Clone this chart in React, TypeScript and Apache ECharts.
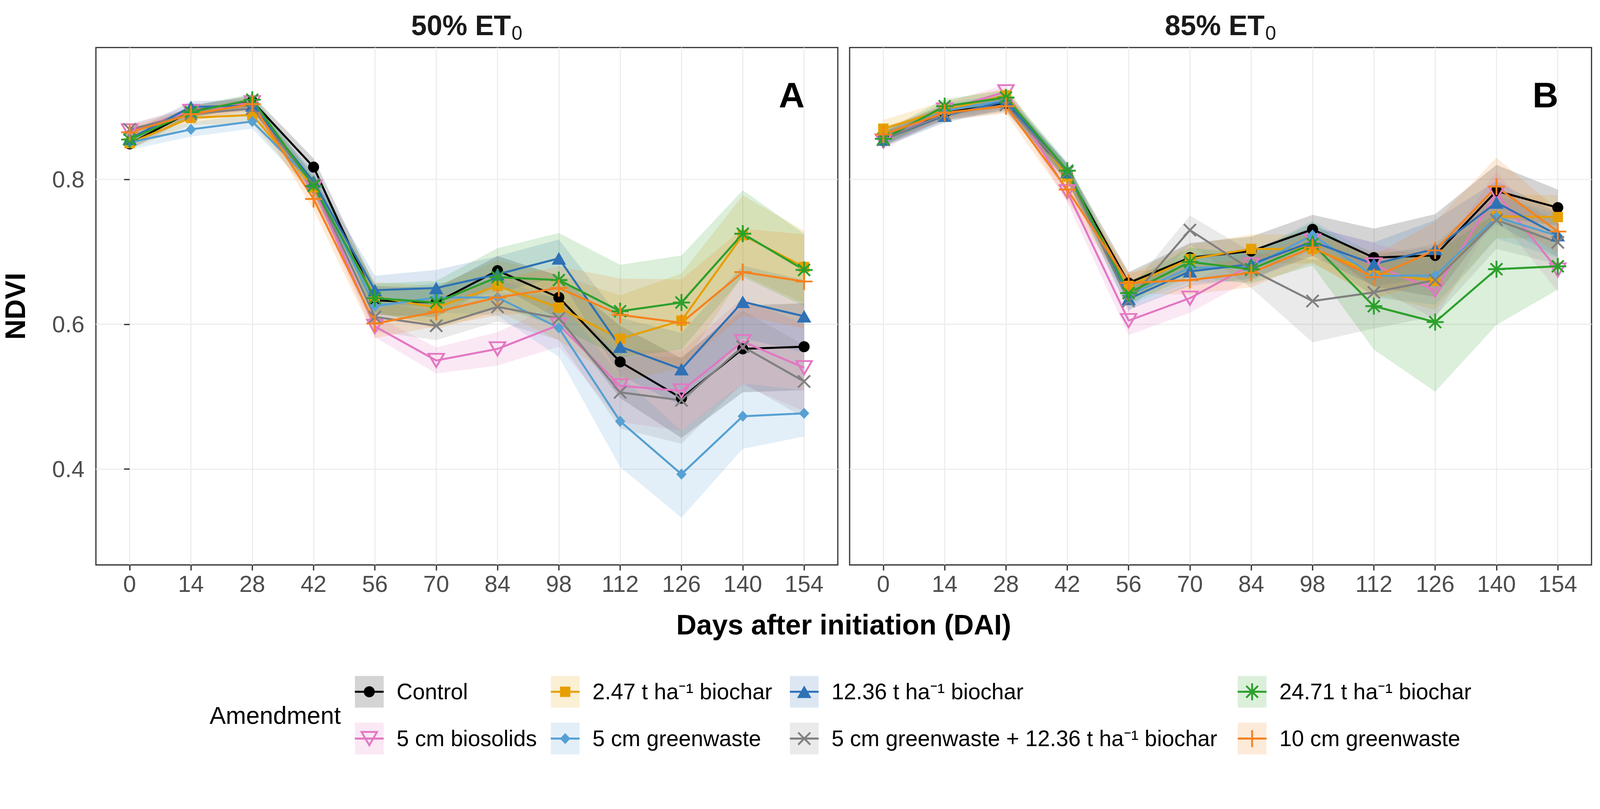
import React, { useEffect, useRef } from "react";
import * as echarts from "echarts";

// ---------------- data ----------------
const DAYS = [0, 14, 28, 42, 56, 70, 84, 98, 112, 126, 140, 154];
const Y_TICKS = [0.4, 0.6, 0.8];

const AMENDMENTS = [
  "Control",
  "5 cm biosolids",
  "2.47 t ha\u207B\u00B9 biochar",
  "5 cm greenwaste",
  "12.36 t ha\u207B\u00B9 biochar",
  "5 cm greenwaste + 12.36 t ha\u207B\u00B9 biochar",
  "24.71 t ha\u207B\u00B9 biochar",
  "10 cm greenwaste",
];
const COLORS = ["#000000", "#E377C2", "#E69F00", "#56A0D3", "#2E71B5", "#808080", "#2CA02C", "#F5821F"];
const SHAPES = ["circle", "triDownOpen", "square", "diamond", "triangle", "cross", "asterisk", "plus"];

const PANEL_TITLES = ["50% ET", "85% ET"];
const PANEL_TAGS = ["A", "B"];

// Panel A (50% ET0) means
const A_CONTROL = [0.849, 0.894, 0.908, 0.817, 0.633, 0.630, 0.674, 0.637, 0.548, 0.498, 0.566, 0.569];
const A_BIOSOLIDS = [0.867, 0.894, 0.906, 0.789, 0.597, 0.550, 0.566, 0.599, 0.515, 0.508, 0.576, 0.540];
const A_B247 = [0.850, 0.885, 0.889, 0.789, 0.638, 0.623, 0.653, 0.623, 0.580, 0.605, 0.723, 0.679];
const A_GW5 = [0.851, 0.869, 0.880, 0.795, 0.625, 0.637, 0.637, 0.595, 0.466, 0.393, 0.473, 0.477];
const A_B1236 = [0.856, 0.900, 0.902, 0.797, 0.647, 0.650, 0.669, 0.691, 0.569, 0.538, 0.631, 0.611];
const A_COMBO = [0.869, 0.890, 0.898, 0.793, 0.610, 0.598, 0.624, 0.608, 0.506, 0.495, 0.569, 0.521];
const A_B2471 = [0.855, 0.893, 0.910, 0.791, 0.636, 0.630, 0.665, 0.661, 0.618, 0.630, 0.725, 0.675];
const A_GW10 = [0.865, 0.890, 0.904, 0.773, 0.601, 0.617, 0.637, 0.650, 0.613, 0.602, 0.672, 0.659];

// Panel A ribbon half-widths
const A_CONTROL_SE = [0.008, 0.008, 0.008, 0.012, 0.02, 0.02, 0.02, 0.03, 0.05, 0.055, 0.06, 0.06];
const A_BIOSOLIDS_SE = [0.008, 0.008, 0.008, 0.012, 0.015, 0.018, 0.023, 0.03, 0.05, 0.055, 0.06, 0.06];
const A_B247_SE = [0.008, 0.01, 0.012, 0.015, 0.02, 0.03, 0.035, 0.045, 0.06, 0.065, 0.055, 0.05];
const A_GW5_SE = [0.01, 0.01, 0.01, 0.015, 0.02, 0.02, 0.025, 0.04, 0.063, 0.06, 0.045, 0.032];
const A_B1236_SE = [0.008, 0.008, 0.008, 0.012, 0.02, 0.025, 0.025, 0.026, 0.04, 0.05, 0.05, 0.05];
const A_COMBO_SE = [0.008, 0.008, 0.008, 0.012, 0.02, 0.02, 0.02, 0.03, 0.05, 0.06, 0.05, 0.05];
const A_B2471_SE = [0.008, 0.008, 0.008, 0.012, 0.02, 0.03, 0.04, 0.065, 0.064, 0.065, 0.06, 0.05];
const A_GW10_SE = [0.008, 0.008, 0.008, 0.015, 0.02, 0.02, 0.025, 0.03, 0.05, 0.06, 0.06, 0.065];

// Panel B (85% ET0) means
const B_CONTROL = [0.857, 0.892, 0.905, 0.808, 0.657, 0.692, 0.701, 0.731, 0.692, 0.695, 0.784, 0.761];
const B_BIOSOLIDS = [0.853, 0.896, 0.921, 0.783, 0.605, 0.636, 0.682, 0.715, 0.682, 0.647, 0.781, 0.675];
const B_B247 = [0.870, 0.896, 0.916, 0.804, 0.653, 0.690, 0.704, 0.704, 0.671, 0.660, 0.749, 0.748];
const B_GW5 = [0.858, 0.895, 0.909, 0.810, 0.640, 0.678, 0.679, 0.723, 0.667, 0.667, 0.748, 0.722];
const B_B1236 = [0.855, 0.888, 0.908, 0.810, 0.635, 0.673, 0.683, 0.714, 0.683, 0.704, 0.768, 0.723];
const B_COMBO = [0.855, 0.890, 0.903, 0.810, 0.632, 0.730, 0.675, 0.632, 0.644, 0.661, 0.744, 0.713];
const B_B2471 = [0.856, 0.901, 0.913, 0.812, 0.643, 0.686, 0.676, 0.711, 0.625, 0.603, 0.676, 0.680];
const B_GW10 = [0.862, 0.892, 0.901, 0.786, 0.657, 0.661, 0.671, 0.706, 0.665, 0.702, 0.790, 0.728];

// Panel B ribbon half-widths
const B_CONTROL_SE = [0.01, 0.01, 0.01, 0.012, 0.015, 0.02, 0.02, 0.02, 0.04, 0.057, 0.036, 0.025];
const B_BIOSOLIDS_SE = [0.012, 0.01, 0.01, 0.015, 0.02, 0.02, 0.02, 0.02, 0.03, 0.04, 0.03, 0.03];
const B_B247_SE = [0.012, 0.012, 0.01, 0.012, 0.015, 0.02, 0.02, 0.02, 0.03, 0.04, 0.03, 0.03];
const B_GW5_SE = [0.01, 0.01, 0.01, 0.012, 0.015, 0.02, 0.02, 0.02, 0.03, 0.04, 0.03, 0.03];
const B_B1236_SE = [0.01, 0.01, 0.01, 0.012, 0.015, 0.02, 0.02, 0.02, 0.03, 0.04, 0.03, 0.03];
const B_COMBO_SE = [0.01, 0.01, 0.01, 0.012, 0.015, 0.02, 0.025, 0.057, 0.05, 0.05, 0.04, 0.03];
const B_B2471_SE = [0.01, 0.01, 0.01, 0.012, 0.015, 0.02, 0.02, 0.03, 0.06, 0.096, 0.077, 0.032];
const B_GW10_SE = [0.01, 0.01, 0.01, 0.015, 0.015, 0.02, 0.02, 0.02, 0.03, 0.04, 0.04, 0.03];

const MEANS = [
  [A_CONTROL, A_BIOSOLIDS, A_B247, A_GW5, A_B1236, A_COMBO, A_B2471, A_GW10],
  [B_CONTROL, B_BIOSOLIDS, B_B247, B_GW5, B_B1236, B_COMBO, B_B2471, B_GW10],
];
const SES = [
  [A_CONTROL_SE, A_BIOSOLIDS_SE, A_B247_SE, A_GW5_SE, A_B1236_SE, A_COMBO_SE, A_B2471_SE, A_GW10_SE],
  [B_CONTROL_SE, B_BIOSOLIDS_SE, B_B247_SE, B_GW5_SE, B_B1236_SE, B_COMBO_SE, B_B2471_SE, B_GW10_SE],
];

// ---------------- styling ----------------
const W = 4337;
const H = 2072;
const FONT = "'Liberation Sans', Arial, Helvetica, sans-serif";
const GRID_TOP = 129;
const GRID_H = 1403;
const GRID_W = 2011;
const GRID_LEFTS = [260, 2303];
const X_MIN = -7.7;
const X_MAX = 161.7;
const Y_MIN = 0.2677;
const Y_MAX = 0.982;
const RIBBON_ALPHA = 0.17;
const LINE_W = 5.5;
const MARK_SW = 5;

const SYMBOL_SPEC: Record<string, { symbol: string; size: any; filled: boolean }> = {
  circle: { symbol: "circle", size: 30, filled: true },
  triDownOpen: { symbol: "path://M0 0L10 0L5 8.66Z", size: [42, 36], filled: false },
  square: { symbol: "rect", size: 28, filled: true },
  diamond: { symbol: "diamond", size: [28, 30], filled: true },
  triangle: { symbol: "triangle", size: [39, 34], filled: true },
  cross: { symbol: "path://M0 0L10 10M10 0L0 10", size: 33, filled: false },
  asterisk: { symbol: "path://M5 0L5 10M0 5L10 5M1.5 1.5L8.5 8.5M8.5 1.5L1.5 8.5", size: 46, filled: false },
  plus: { symbol: "path://M5 0L5 10M0 5L10 5", size: 46, filled: false },
};

function rgba(hex: string, a: number) {
  const r = parseInt(hex.slice(1, 3), 16);
  const g = parseInt(hex.slice(3, 5), 16);
  const b = parseInt(hex.slice(5, 7), 16);
  return `rgba(${r},${g},${b},${a})`;
}

function markerEls(kind: string, cx: number, cy: number, color: string): any[] {
  const sw = MARK_SW;
  switch (kind) {
    case "circle":
      return [{ type: "circle", shape: { cx, cy, r: 15 }, style: { fill: color } }];
    case "square":
      return [{ type: "rect", shape: { x: cx - 14, y: cy - 14, width: 28, height: 28 }, style: { fill: color } }];
    case "diamond":
      return [{ type: "polygon", shape: { points: [[cx, cy - 15], [cx + 14, cy], [cx, cy + 15], [cx - 14, cy]] }, style: { fill: color } }];
    case "triangle":
      return [{ type: "polygon", shape: { points: [[cx, cy - 17], [cx + 19.5, cy + 17], [cx - 19.5, cy + 17]] }, style: { fill: color } }];
    case "triDownOpen":
      return [{ type: "polygon", shape: { points: [[cx - 21, cy - 18], [cx + 21, cy - 18], [cx, cy + 18]] }, style: { fill: "none", stroke: color, lineWidth: sw } }];
    case "cross":
      return [
        { type: "line", shape: { x1: cx - 16.5, y1: cy - 16.5, x2: cx + 16.5, y2: cy + 16.5 }, style: { stroke: color, lineWidth: sw } },
        { type: "line", shape: { x1: cx + 16.5, y1: cy - 16.5, x2: cx - 16.5, y2: cy + 16.5 }, style: { stroke: color, lineWidth: sw } },
      ];
    case "plus":
      return [
        { type: "line", shape: { x1: cx - 23, y1: cy, x2: cx + 23, y2: cy }, style: { stroke: color, lineWidth: sw } },
        { type: "line", shape: { x1: cx, y1: cy - 23, x2: cx, y2: cy + 23 }, style: { stroke: color, lineWidth: sw } },
      ];
    case "asterisk":
      return [
        { type: "line", shape: { x1: cx - 23, y1: cy, x2: cx + 23, y2: cy }, style: { stroke: color, lineWidth: sw } },
        { type: "line", shape: { x1: cx, y1: cy - 23, x2: cx, y2: cy + 23 }, style: { stroke: color, lineWidth: sw } },
        { type: "line", shape: { x1: cx - 16, y1: cy - 16, x2: cx + 16, y2: cy + 16 }, style: { stroke: color, lineWidth: sw } },
        { type: "line", shape: { x1: cx + 16, y1: cy - 16, x2: cx - 16, y2: cy + 16 }, style: { stroke: color, lineWidth: sw } },
      ];
  }
  return [];
}

function buildOption() {
  const grids = GRID_LEFTS.map((left) => ({
    left,
    top: GRID_TOP,
    width: GRID_W,
    height: GRID_H,
    show: true,
    backgroundColor: "#FFFFFF",
    borderColor: "#333333",
    borderWidth: 3.2,
    containLabel: false,
    outerBoundsMode: "none",
  }));

  const xAxes = [0, 1].map((p) => ({
    gridIndex: p,
    type: "value",
    min: X_MIN,
    max: X_MAX,
    axisLine: { show: false },
    axisTick: {
      show: true,
      inside: false,
      length: 15,
      customValues: DAYS,
      lineStyle: { color: "#333333", width: 3.5 },
    },
    axisLabel: {
      show: true,
      customValues: DAYS,
      fontSize: 63,
      fontFamily: FONT,
      color: "#4D4D4D",
      margin: 20,
      formatter: (v: number) => String(v),
    },
    splitLine: { show: true, lineStyle: { color: "#EBEBEB", width: 2.8 } },
    minorSplitLine: { show: false },
  }));

  const yAxes = [0, 1].map((p) => ({
    gridIndex: p,
    type: "value",
    min: Y_MIN,
    max: Y_MAX,
    axisLine: { show: false },
    axisTick: {
      show: p === 0,
      inside: false,
      length: 15,
      customValues: Y_TICKS,
      lineStyle: { color: "#333333", width: 3.5 },
    },
    axisLabel: {
      show: p === 0,
      customValues: Y_TICKS,
      fontSize: 63,
      fontFamily: FONT,
      color: "#4D4D4D",
      margin: 31,
      formatter: (v: number) => v.toFixed(1),
    },
    splitLine: { show: true, lineStyle: { color: "#EBEBEB", width: 2.8 } },
  }));

  const series: any[] = [];
  // ribbons first
  for (let p = 0; p < 2; p++) {
    for (let s = 0; s < AMENDMENTS.length; s++) {
      const mean = MEANS[p][s];
      const se = SES[p][s];
      const lo = mean.map((m, i) => m - se[i]);
      const hi = mean.map((m, i) => m + se[i]);
      const fill = rgba(COLORS[s], RIBBON_ALPHA);
      series.push({
        type: "custom",
        name: AMENDMENTS[s] + " ribbon " + p,
        xAxisIndex: p,
        yAxisIndex: p,
        silent: true,
        z: 1,
        data: DAYS.map((d, i) => [d, lo[i], hi[i]]),
        encode: { x: 0, y: [1, 2] },
        renderItem: (params: any, api: any) => {
          if (params.dataIndex !== 0) return null;
          const pts: number[][] = [];
          for (let i = 0; i < DAYS.length; i++) pts.push(api.coord([DAYS[i], hi[i]]));
          for (let i = DAYS.length - 1; i >= 0; i--) pts.push(api.coord([DAYS[i], lo[i]]));
          return { type: "polygon", shape: { points: pts }, style: { fill } };
        },
      });
    }
  }
  // lines + points
  for (let p = 0; p < 2; p++) {
    for (let s = 0; s < AMENDMENTS.length; s++) {
      const spec = SYMBOL_SPEC[SHAPES[s]];
      const color = COLORS[s];
      series.push({
        type: "line",
        name: AMENDMENTS[s],
        xAxisIndex: p,
        yAxisIndex: p,
        silent: true,
        z: 3,
        data: DAYS.map((d, i) => [d, MEANS[p][s][i]]),
        symbol: spec.symbol,
        symbolSize: spec.size,
        showSymbol: true,
        showAllSymbol: true,
        clip: false,
        lineStyle: { color, width: LINE_W },
        itemStyle: spec.filled
          ? { color, borderWidth: 0, opacity: 1 }
          : { color: "rgba(0,0,0,0)", borderColor: color, borderWidth: MARK_SW, opacity: 1 },
        emphasis: { disabled: true },
      });
    }
  }

  const graphic: any[] = [];
  // panel titles
  for (let p = 0; p < 2; p++) {
    const cx = GRID_LEFTS[p] + GRID_W / 2;
    graphic.push({
      type: "text",
      x: cx - 151,
      y: 69,
      style: { text: PANEL_TITLES[p], font: `bold 76px ${FONT}`, fill: "#1A1A1A", align: "left", verticalAlign: "middle" },
    });
    graphic.push({
      type: "text",
      x: cx + 121,
      y: 90,
      style: { text: "0", font: `53px ${FONT}`, fill: "#1A1A1A", align: "left", verticalAlign: "middle" },
    });
    graphic.push({
      type: "text",
      x: GRID_LEFTS[p] + 1886,
      y: 257,
      style: { text: PANEL_TAGS[p], font: `bold 97px ${FONT}`, fill: "#000000", align: "center", verticalAlign: "middle" },
    });
  }
  // axis titles
  graphic.push({
    type: "text",
    x: (GRID_LEFTS[0] + GRID_LEFTS[1] + GRID_W) / 2,
    y: 1694,
    style: { text: "Days after initiation (DAI)", font: `bold 76px ${FONT}`, fill: "#000000", align: "center", verticalAlign: "middle" },
  });
  graphic.push({
    type: "text",
    x: 41,
    y: GRID_TOP + GRID_H / 2,
    rotation: Math.PI / 2,
    style: { text: "NDVI", font: `bold 76px ${FONT}`, fill: "#000000", align: "center", verticalAlign: "middle" },
  });

  // legend
  graphic.push({
    type: "text",
    x: 568,
    y: 1940,
    style: { text: "Amendment", font: `66px ${FONT}`, fill: "#000000", align: "left", verticalAlign: "middle" },
  });
  const colX = [962, 1493, 2141, 3355];
  const rowTop = [1833, 1960];
  const keyW = 78;
  const keyH = 86;
  for (let s = 0; s < AMENDMENTS.length; s++) {
    const col = Math.floor(s / 2);
    const row = s % 2;
    const kx = colX[col];
    const ky = rowTop[row];
    const cy = ky + keyH / 2;
    const cx = kx + keyW / 2;
    const color = COLORS[s];
    graphic.push({ type: "rect", shape: { x: kx, y: ky, width: keyW, height: keyH }, style: { fill: rgba(color, RIBBON_ALPHA) } });
    graphic.push({ type: "line", shape: { x1: kx, y1: cy, x2: kx + keyW, y2: cy }, style: { stroke: color, lineWidth: LINE_W } });
    markerEls(SHAPES[s], cx, cy, color).forEach((e) => graphic.push(e));
    graphic.push({
      type: "text",
      x: kx + 113,
      y: cy,
      style: { text: AMENDMENTS[s], font: `60px ${FONT}`, fill: "#000000", align: "left", verticalAlign: "middle" },
    });
  }

  return {
    animation: false,
    backgroundColor: "#FFFFFF",
    grid: grids,
    xAxis: xAxes,
    yAxis: yAxes,
    series,
    graphic,
  };
}

function viewScale() {
  if (typeof window === "undefined") return 1;
  const sx = window.innerWidth / W;
  const sy = window.innerHeight / H;
  const s = Math.min(sx, sy);
  return s > 0 ? s : 1;
}

export default function App() {
  const ref = useRef<HTMLDivElement>(null);
  const k = viewScale();
  useEffect(() => {
    document.body.style.margin = "0";
    document.body.style.overflow = "hidden";
    if (!ref.current) return;
    const chart = echarts.init(ref.current, undefined, { renderer: "svg", width: W, height: H });
    chart.setOption(buildOption() as any);
    return () => {
      chart.dispose();
    };
  }, []);
  return (
    <div
      ref={ref}
      style={{
        width: W,
        height: H,
        position: "absolute",
        left: 0,
        top: 0,
        background: "#fff",
        transform: `scale(${k})`,
        transformOrigin: "0 0",
      }}
    />
  );
}
